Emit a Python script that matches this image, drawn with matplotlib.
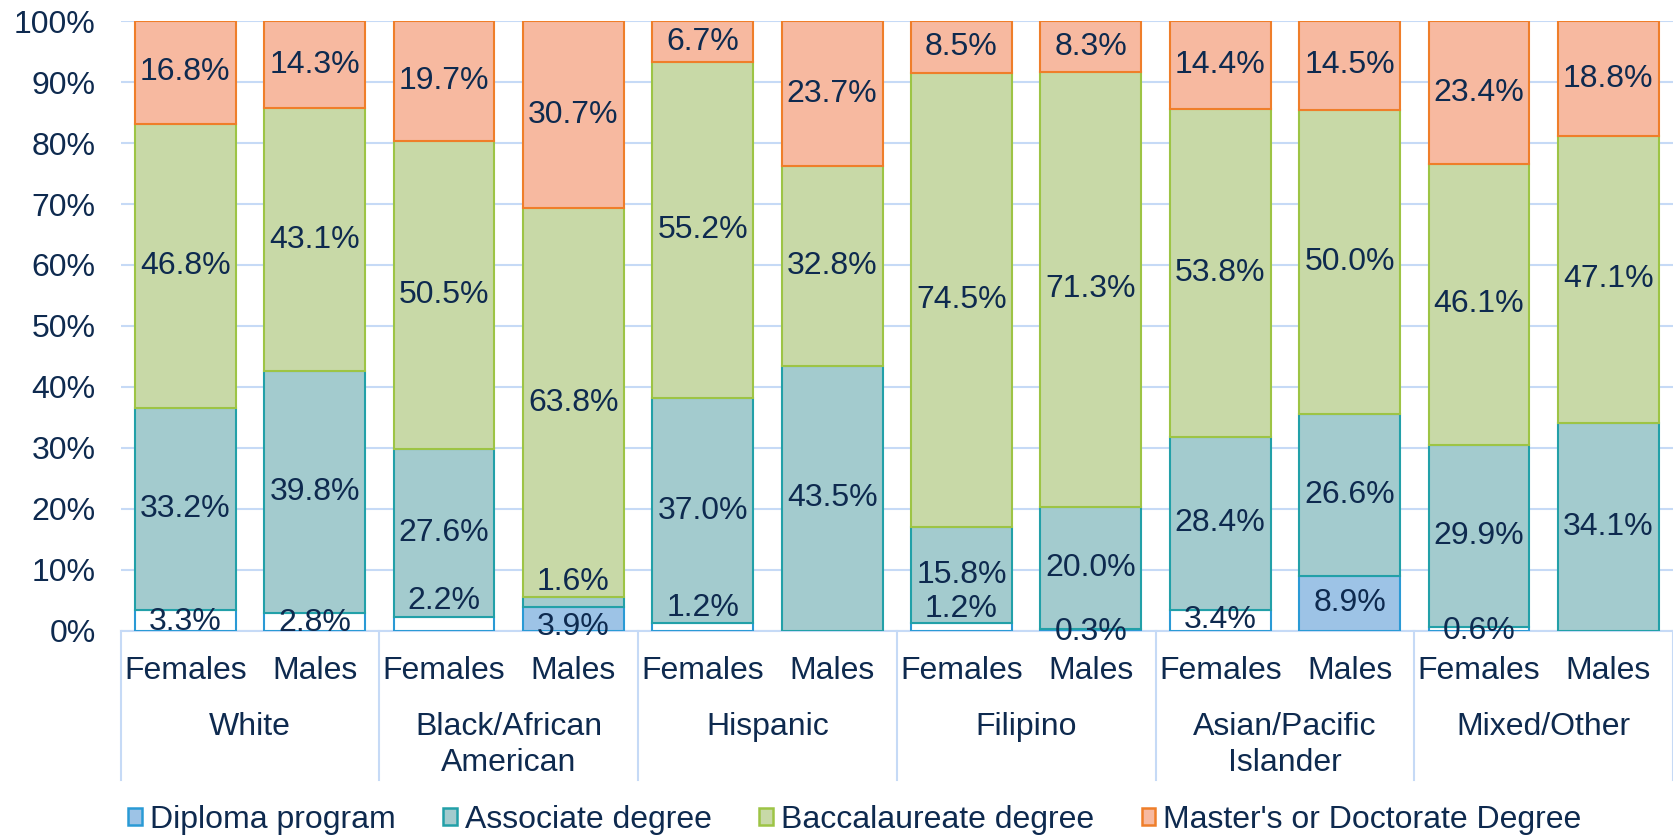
import numpy as np
import matplotlib.pyplot as plt
from matplotlib.patches import Patch

plt.rcParams['font.family'] = ['Liberation Sans', 'DejaVu Sans']

# data, percent of graduates by highest nursing education
groups = ['White', 'Black/African\nAmerican', 'Hispanic', 'Filipino',
          'Asian/Pacific\nIslander', 'Mixed/Other']
sexes = ['Females', 'Males']
diploma = [3.3, 2.8, 2.2, 3.9, 1.2, 0.0, 1.2, 0.3, 3.4, 8.9, 0.6, 0.0]
associate = [33.2, 39.8, 27.6, 1.6, 37.0, 43.5, 15.8, 20.0, 28.4, 26.6, 29.9, 34.1]
bacc = [46.8, 43.1, 50.5, 63.8, 55.2, 32.8, 74.5, 71.3, 53.8, 50.0, 46.1, 47.1]
masters = [16.8, 14.3, 19.7, 30.7, 6.7, 23.7, 8.5, 8.3, 14.4, 14.5, 23.4, 18.8]
series_names = ['Diploma program', 'Associate degree', 'Baccalaureate degree',
                "Master's or Doctorate Degree"]

# in the original only two of the diploma segments are filled
diploma_filled = [False, False, False, True, False, False,
                  False, False, False, True, False, False]

fills = ['#9DC3E6', '#A3CBCE', '#C8D9A7', '#F7B9A0']
edges = ['#2A9AD5', '#22A0A8', '#9DC445', '#EF7E2A']
text_col = '#0E2A4F'
grid_col = '#C6DAF6'
fs = 23

# small labels were moved by hand in the original (in % units)
nudge = {(0, 2): 3.8, (1, 3): 3.2, (0, 3): -1.4, (0, 4): 3.1,
         (0, 6): 2.9, (0, 7): -0.35, (0, 10): -0.3, (0, 0): -0.25, (0, 1): -0.2}

data = np.array([diploma, associate, bacc, masters])
data = data / data.sum(axis=0) * 100
raw = np.array([diploma, associate, bacc, masters])

fig = plt.figure(figsize=(16.73, 8.36), dpi=100)
ax = fig.add_axes([0.0721, 0.2458, 0.9279, 0.7287])

x = np.arange(len(diploma))
bottom = np.zeros(len(x))
for s in range(4):
    fc = fills[s]
    if s == 0:
        fc = [fills[0] if f else 'white' for f in diploma_filled]
    ax.bar(x, data[s], 0.78, bottom=bottom, color=fc, edgecolor=edges[s],
           linewidth=1.5, zorder=3)
    for i in x:
        if raw[s, i] <= 0:
            continue
        yc = bottom[i] + data[s, i] / 2 + nudge.get((s, i), 0)
        ax.text(i, yc, f'{raw[s, i]:.1f}%', ha='center', va='center',
                fontsize=fs, color=text_col, zorder=5)
    bottom += data[s]

ax.set_xlim(-0.5, len(x) - 0.5)
ax.set_ylim(0, 100)
ax.set_yticks(np.arange(0, 101, 10))
ax.set_yticklabels([f'{v}%' for v in range(0, 101, 10)])
ax.tick_params(axis='y', length=0, pad=18, labelsize=fs, labelcolor=text_col)
ax.set_xticks([])
ax.yaxis.grid(True, color=grid_col, linewidth=1.5, zorder=0)
for sp in ['top', 'right', 'left']:
    ax.spines[sp].set_visible(False)
ax.spines['bottom'].set_color(grid_col)
ax.spines['bottom'].set_linewidth(1.5)

# multi-level category axis
tr = ax.get_xaxis_transform()
for i in x:
    ax.text(i, -0.080, sexes[i % 2], ha='center', va='baseline',
            fontsize=fs, color=text_col, transform=tr)
for g, name in enumerate(groups):
    for k, line in enumerate(name.split('\n')):
        ax.text(2 * g + 0.5, -0.172 - k * 0.059, line, ha='center',
                va='baseline', fontsize=fs, color=text_col, transform=tr)
for b in np.arange(-0.5, len(x), 2):
    ax.plot([b, b], [0, -0.2454], color=grid_col, linewidth=1.5,
            transform=tr, clip_on=False)

handles = [Patch(facecolor=fills[s], edgecolor=edges[s], linewidth=1.8)
           for s in range(4)]
fig.legend(handles, series_names, loc='center', bbox_to_anchor=(0.511, 0.019),
           ncol=4, frameon=False, fontsize=fs, labelcolor=text_col,
           handlelength=0.42, handleheight=0.42, handletextpad=0.25,
           columnspacing=1.5, borderpad=0)

fig.savefig('out.png', dpi=100)
